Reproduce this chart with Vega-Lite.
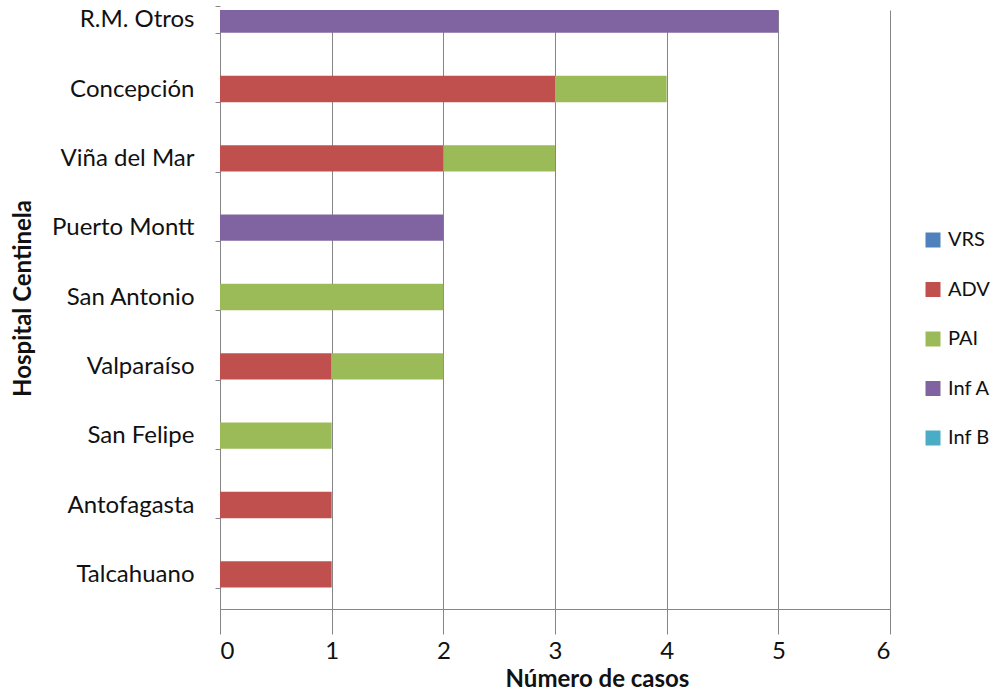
{
  "$schema": "https://vega.github.io/schema/vega-lite/v6.json",
  "autosize": "none",
  "padding": {"left": 220, "top": 10, "right": 110, "bottom": 87},
  "width": 670,
  "height": 599,
  "background": "white",
  "config": {
    "view": {"stroke": null},
    "font": "Lato",
    "axis": {"labelFont": "Lato", "titleFont": "Lato", "labelColor": "#111111", "titleColor": "#111111"}
  },
  "data": {
    "values": [
      {"hospital": "R.M. Otros", "virus": "Inf A", "casos": 5},
      {"hospital": "Concepción", "virus": "ADV", "casos": 3},
      {"hospital": "Concepción", "virus": "PAI", "casos": 1},
      {"hospital": "Viña del Mar", "virus": "ADV", "casos": 2},
      {"hospital": "Viña del Mar", "virus": "PAI", "casos": 1},
      {"hospital": "Puerto Montt", "virus": "Inf A", "casos": 2},
      {"hospital": "San Antonio", "virus": "PAI", "casos": 2},
      {"hospital": "Valparaíso", "virus": "ADV", "casos": 1},
      {"hospital": "Valparaíso", "virus": "PAI", "casos": 1},
      {"hospital": "San Felipe", "virus": "PAI", "casos": 1},
      {"hospital": "Antofagasta", "virus": "ADV", "casos": 1},
      {"hospital": "Talcahuano", "virus": "ADV", "casos": 1}
    ]
  },
  "mark": {"type": "bar", "clip": true},
  "encoding": {
    "y": {
      "field": "hospital",
      "type": "nominal",
      "sort": ["R.M. Otros", "Concepción", "Viña del Mar", "Puerto Montt", "San Antonio", "Valparaíso", "San Felipe", "Antofagasta", "Talcahuano"],
      "scale": {"range": [-25, 599], "paddingInner": 0.62, "paddingOuter": 0.31},
      "axis": {
        "title": "Hospital Centinela",
        "titleFontSize": 24,
        "titleFontWeight": "bold",
        "titlePadding": 16,
        "titleY": 288,
        "labelFontSize": 24,
        "labelPadding": 21,
        "domain": false,
        "ticks": true,
        "tickBand": "extent",
        "tickSize": 5,
        "tickColor": "#868686",
        "grid": false
      }
    },
    "x": {
      "field": "casos",
      "type": "quantitative",
      "stack": "zero",
      "scale": {"domain": [0, 6], "nice": false},
      "axis": {
        "title": "Número de casos",
        "titleFontSize": 24,
        "titleFontWeight": "bold",
        "titlePadding": 4,
        "titleX": 377,
        "labelFontSize": 24,
        "labelPadding": 24,
        "values": [0, 1, 2, 3, 4, 5, 6],
        "format": "d",
        "domainColor": "#868686",
        "tickColor": "#868686",
        "tickSize": 6,
        "grid": true,
        "gridColor": "#868686",
        "gridWidth": 1,
        "gridOpacity": 1
      }
    },
    "color": {
      "field": "virus",
      "type": "nominal",
      "scale": {
        "domain": ["VRS", "ADV", "PAI", "Inf A", "Inf B"],
        "range": ["#4F81BD", "#C0504D", "#9BBB59", "#8064A2", "#4BACC6"]
      },
      "legend": {
        "title": null,
        "orient": "none",
        "legendX": 703,
        "legendY": 220,
        "padding": 0,
        "symbolType": "square",
        "symbolSize": 225,
        "symbolStrokeWidth": 0,
        "labelFontSize": 20,
        "labelColor": "#111111",
        "labelOffset": 5,
        "rowPadding": 29.5
      }
    },
    "order": {"field": "virus", "sort": "ascending"}
  }
}
